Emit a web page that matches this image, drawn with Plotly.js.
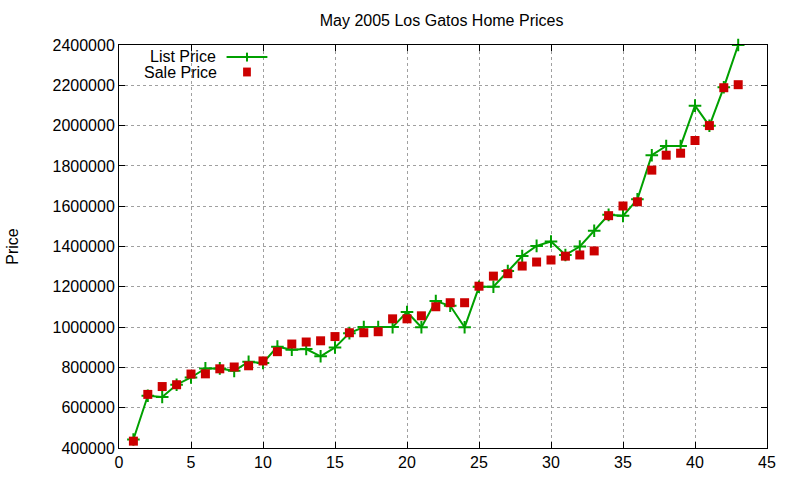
<!DOCTYPE html>
<html>
<head>
<meta charset="utf-8">
<script src="https://cdn.plot.ly/plotly-3.0.1.min.js"></script>
<style>
  html, body { margin: 0; padding: 0; background: #fff; }
  #chart { width: 800px; height: 480px; }
</style>
</head>
<body>
<div id="chart"></div>
<script>
// house index (1..43) and prices
var houses = [];
for (var i = 1; i <= 43; i++) houses.push(i);

var listPrice = [
  442000, 659000, 653000, 714000, 750000, 795000, 795000, 783000, 828000, 822000,
  903000, 888000, 891000, 855000, 899000, 970000, 1000000, 1000000, 1000000, 1075000,
  999000, 1129000, 1106000, 999000, 1200000, 1200000, 1278000, 1353000, 1403000, 1425000,
  1358000, 1400000, 1478000, 1557000, 1552000, 1634000, 1853000, 1899000, 1899000, 2099000,
  1999000, 2190000, 2400000
];

var salePrice = [
  434000, 666000, 705000, 714000, 767000, 768000, 793000, 802000, 808000, 832000,
  878000, 916000, 926000, 932000, 953000, 972000, 972000, 977000, 1041000, 1041000,
  1056000, 1101000, 1121000, 1121000, 1203000, 1253000, 1265000, 1303000, 1323000, 1333000,
  1352000, 1358000, 1378000, 1553000, 1601000, 1622000, 1779000, 1853000, 1863000, 1926000,
  2000000, 2188000, 2203000
];

var green = '#00a000';
var red = '#cc0000';
var font = 'Liberation Sans, Arial, sans-serif';

var data = [{
    x: houses,
    y: listPrice,
    name: 'List Price',
    type: 'scatter',
    mode: 'lines+markers',
    line: {color: green, width: 2},
    marker: {symbol: 'cross-thin', size: 9, line: {color: green, width: 2}},
    cliponaxis: false
  }, {
    x: houses,
    y: salePrice,
    name: 'Sale Price',
    type: 'scatter',
    mode: 'markers',
    marker: {symbol: 'square', size: 9, color: red},
    cliponaxis: false
  }];

var axisStyle = {
    showline: true,
    linecolor: '#000',
    linewidth: 1,
    mirror: 'ticks',
    ticks: 'inside',
    ticklen: 6,
    tickcolor: '#000',
    showgrid: true,
    gridcolor: '#a0a0a0',
    griddash: 'dot',
    gridwidth: 1,
    zeroline: false,
    tickfont: {family: font, size: 16, color: '#000'}
};

var layout = {
    width: 800,
    height: 480,
    margin: {l: 119, r: 33, t: 45, b: 32},
    paper_bgcolor: '#fff',
    plot_bgcolor: '#fff',
    showlegend: false,
    font: {family: font, size: 16, color: '#000'},
    title: {
      text: 'May 2005 Los Gatos Home Prices',
      font: {family: font, size: 16, color: '#000'},
      x: 0.552, xanchor: 'center',
      y: 0.958, yanchor: 'middle'
    },
    xaxis: Object.assign({}, axisStyle, {
      range: [0, 45],
      dtick: 5,
      tick0: 0
    }),
    yaxis: Object.assign({}, axisStyle, {
      range: [400000, 2400000],
      dtick: 200000,
      tick0: 400000,
      tickformat: 'd',
      title: {text: 'Price', font: {family: font, size: 16, color: '#000'}, standoff: 29}
    }),
    // gnuplot style key: text on the left, sample on the right
    annotations: [
      {xref: 'paper', yref: 'paper', x: 0.153, y: 0.972, xanchor: 'right', yanchor: 'middle',
       text: 'List Price', showarrow: false, font: {family: font, size: 16, color: '#000'}},
      {xref: 'paper', yref: 'paper', x: 0.155, y: 0.933, xanchor: 'right', yanchor: 'middle',
       text: 'Sale Price', showarrow: false, font: {family: font, size: 16, color: '#000'}}
    ],
    shapes: [
      {type: 'line', xref: 'paper', yref: 'paper', x0: 0.166, x1: 0.229, y0: 0.970, y1: 0.970,
       line: {color: green, width: 2}},
      {type: 'line', xref: 'paper', yref: 'paper', x0: 0.1975, x1: 0.1975, y0: 0.959, y1: 0.981,
       line: {color: green, width: 2}},
      {type: 'rect', xref: 'paper', yref: 'paper', x0: 0.1915, x1: 0.2035, y0: 0.922, y1: 0.944,
       fillcolor: red, line: {width: 0}}
    ]
};

Plotly.newPlot('chart', data, layout, {displayModeBar: false, staticPlot: true});
</script>
</body>
</html>
